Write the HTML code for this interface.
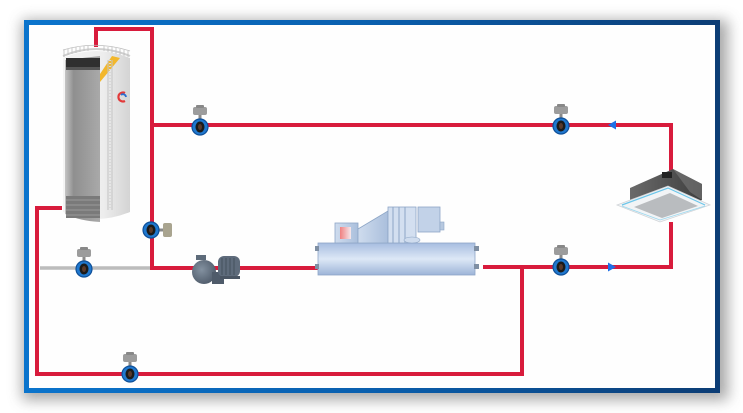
<!DOCTYPE html>
<html><head><meta charset="utf-8"><style>
html,body{margin:0;padding:0;background:#fff;}
svg{display:block;}
</style></head><body>
<svg width="743" height="413" viewBox="0 0 743 413" xmlns="http://www.w3.org/2000/svg">
<defs>
<filter id="sh" x="-10%" y="-10%" width="120%" height="125%"><feGaussianBlur stdDeviation="7"/></filter>
<linearGradient id="fr" x1="0" y1="0" x2="1" y2="0">
<stop offset="0" stop-color="#0b74cc"/><stop offset="0.5" stop-color="#0a5fae"/><stop offset="1" stop-color="#0c3d75"/>
</linearGradient>
<linearGradient id="tankL" x1="0" y1="0" x2="1" y2="0">
<stop offset="0" stop-color="#c4c4c4"/><stop offset="0.25" stop-color="#8f8f8f"/><stop offset="1" stop-color="#a9a9a9"/>
</linearGradient>
<linearGradient id="tankR" x1="0" y1="0" x2="1" y2="0">
<stop offset="0" stop-color="#f4f4f4"/><stop offset="0.6" stop-color="#ededed"/><stop offset="1" stop-color="#d4d4d4"/>
</linearGradient>
<linearGradient id="chB" x1="0" y1="0" x2="0" y2="1">
<stop offset="0" stop-color="#a7bde0"/><stop offset="0.5" stop-color="#dde8f6"/><stop offset="1" stop-color="#9db4d8"/>
</linearGradient>
<linearGradient id="chU" x1="0" y1="0" x2="1" y2="0">
<stop offset="0" stop-color="#cfdcee"/><stop offset="1" stop-color="#aabfdc"/>
</linearGradient>
<linearGradient id="red" x1="0" y1="0" x2="1" y2="0">
<stop offset="0" stop-color="#f08080"/><stop offset="1" stop-color="#f5e8ec"/>
</linearGradient>
<linearGradient id="acb" x1="0" y1="0" x2="1" y2="0">
<stop offset="0" stop-color="#6a6a6a"/><stop offset="1" stop-color="#3e3e3e"/>
</linearGradient>
<radialGradient id="pump" cx="0.4" cy="0.4" r="0.7">
<stop offset="0" stop-color="#8391a0"/><stop offset="1" stop-color="#4c5867"/>
</radialGradient>
<g id="valve">
<rect x="-1.5" y="-13" width="3" height="6" fill="#8a8a8a"/>
<rect x="-7" y="-20" width="14" height="8" rx="2" fill="#9c9c9c"/>
<rect x="-4" y="-22" width="8" height="3" rx="1" fill="#888"/>
<circle cx="0" cy="0" r="8" fill="#1f78cf" stroke="#0e4f98" stroke-width="1.2"/>
<ellipse cx="0" cy="0" rx="4.5" ry="5.5" fill="#1b1b1b"/>
<ellipse cx="0" cy="0" rx="2" ry="3" fill="#5a3a2a"/>
</g>
</defs>

<!-- frame shadow -->
<rect x="22" y="20" width="706" height="380" fill="#999" filter="url(#sh)" opacity="0.85"/>
<rect x="26.5" y="22.5" width="691" height="368" fill="#fefefe" stroke="url(#fr)" stroke-width="5"/>

<!-- pipes -->
<g fill="none" stroke="#d81b3c" stroke-width="4" stroke-linejoin="miter">
<path d="M96,47 V29 H152 V268 H320"/>
<path d="M152,125 H671 V172"/>
<path d="M671,222 V267 H483"/>
<path d="M522,267 V374 H37 V208 H62"/>
</g>
<path d="M40,268 H150" stroke="#bcbcbc" stroke-width="3.5" fill="none"/>

<!-- arrows -->
<polygon points="608,125 616,120.5 616,129.5" fill="#1f6fe6"/>
<polygon points="616,267 608,262.5 608,271.5" fill="#1f6fe6"/>

<!-- tank -->
<g>
<path d="M63,58 Q96,44 130,58 V212 Q96,226 63,212 Z" fill="url(#tankR)"/>
<path d="M65,60 L100,56 V222 Q80,221 65,214 Z" fill="url(#tankL)"/>
<rect x="66" y="58" width="34" height="9" fill="#2f2f2f"/>
<rect x="66" y="67" width="34" height="3" fill="#555"/>
<rect x="66" y="196" width="34" height="22" fill="#7a7a7a"/>
<g stroke="#9a9a9a" stroke-width="1">
<line x1="66" y1="200" x2="100" y2="200"/><line x1="66" y1="205" x2="100" y2="205"/><line x1="66" y1="210" x2="100" y2="210"/><line x1="66" y1="215" x2="100" y2="215"/>
</g>
<polygon points="100,82 100,74 112,56 120,58" fill="#f2b72c"/>
<g stroke="#c4c4c4" stroke-width="1">
<line x1="108" y1="60" x2="108" y2="210"/><line x1="112" y1="60" x2="112" y2="210"/>
</g>
<line x1="110" y1="60" x2="110" y2="210" stroke="#d8d8d8" stroke-width="2" stroke-dasharray="1 2"/>
<path d="M125,93 A4.5,4.5 0 1 0 125,101" fill="none" stroke="#e23a3a" stroke-width="2.2"/>
<path d="M121,95 A3,3 0 0 1 126,97" fill="none" stroke="#2a6fd0" stroke-width="1.8"/>
<path d="M63,56 Q96,42 130,56" fill="none" stroke="#cfcfcf" stroke-width="2"/>
<g stroke="#bdbdbd" stroke-width="0.8">
<line x1="64" y1="50" x2="64" y2="57"/><line x1="68" y1="49" x2="68" y2="55"/><line x1="72" y1="48" x2="72" y2="54"/><line x1="76" y1="47" x2="76" y2="53"/><line x1="80" y1="47" x2="80" y2="52"/><line x1="84" y1="46" x2="84" y2="51"/><line x1="88" y1="46" x2="88" y2="51"/><line x1="104" y1="46" x2="104" y2="51"/><line x1="108" y1="47" x2="108" y2="52"/><line x1="112" y1="47" x2="112" y2="53"/><line x1="116" y1="48" x2="116" y2="54"/><line x1="120" y1="49" x2="120" y2="55"/><line x1="124" y1="50" x2="124" y2="56"/><line x1="128" y1="51" x2="128" y2="57"/>
<path d="M63,50 Q96,40 130,51" fill="none"/>
</g>
</g>

<!-- pump -->
<g>
<rect x="196" y="255" width="10" height="5" fill="#5d6b7a"/>
<circle cx="204" cy="272" r="12" fill="url(#pump)"/>
<rect x="212" y="272" width="12" height="12" fill="#4f5b6a"/>
<rect x="218" y="256" width="22" height="21" rx="6" fill="#5e6b7b"/>
<g stroke="#44505e" stroke-width="1"><line x1="222" y1="258" x2="222" y2="275"/><line x1="226" y1="258" x2="226" y2="275"/><line x1="230" y1="258" x2="230" y2="275"/><line x1="234" y1="258" x2="234" y2="275"/></g>
<rect x="220" y="276" width="20" height="3" fill="#4a5563"/>
</g>

<!-- chiller -->
<g>
<rect x="318" y="243" width="157" height="32" fill="url(#chB)" stroke="#8ea6c6" stroke-width="0.8"/>
<rect x="315" y="246" width="4" height="5" fill="#7f8fa3"/><rect x="315" y="264" width="4" height="5" fill="#7f8fa3"/>
<rect x="474" y="246" width="5" height="5" fill="#7f8fa3"/><rect x="474" y="264" width="5" height="5" fill="#7f8fa3"/>
<rect x="335" y="223" width="23" height="20" fill="url(#chU)" stroke="#8ea6c6" stroke-width="0.8"/>
<rect x="340" y="227" width="11" height="12" fill="url(#red)"/>
<polygon points="358,229 388,211 388,243 358,243" fill="url(#chU)" stroke="#8ea6c6" stroke-width="0.8"/>
<rect x="388" y="207" width="28" height="36" fill="#d3dff0" stroke="#8ea6c6" stroke-width="0.8"/>
<g stroke="#8ea6c6" stroke-width="1"><line x1="393" y1="207" x2="393" y2="243"/><line x1="399" y1="207" x2="399" y2="243"/><line x1="405" y1="207" x2="405" y2="243"/></g>
<rect x="418" y="207" width="22" height="25" fill="#c2d2e8" stroke="#8ea6c6" stroke-width="0.8"/>
<rect x="440" y="222" width="4" height="8" fill="#b7c8df" stroke="#8ea6c6" stroke-width="0.6"/>
<ellipse cx="412" cy="240" rx="8" ry="3" fill="#cfdcee" stroke="#8ea6c6" stroke-width="0.6"/>
</g>

<!-- AC unit -->
<g>
<polygon points="630,200 630,188 673,169 702,184 702,200 665,212" fill="url(#acb)"/>
<polygon points="673,169 702,184 702,200 690,192" fill="#7a7a7a" opacity="0.6"/>
<rect x="662" y="172" width="10" height="6" fill="#222"/>
<polygon points="617,205 668,186 710,205 660,222" fill="#f2f4f6" stroke="#d0d4d8" stroke-width="0.8"/>
<polygon points="634,207 670,193 698,206 662,218" fill="#b9bcbf"/>
<polyline points="622,205 668,188 705,205" fill="none" stroke="#6cc6ea" stroke-width="1.2"/>
<polyline points="622,206 660,220 705,206" fill="none" stroke="#9ad8ef" stroke-width="0.8"/>
</g>

<!-- valves -->
<use href="#valve" x="200" y="127"/>
<use href="#valve" x="561" y="126"/>
<use href="#valve" x="561" y="267"/>
<use href="#valve" x="84" y="269"/>
<use href="#valve" x="130" y="374"/>
<g transform="translate(151,230) rotate(90)">
<rect x="-1.5" y="-13" width="3" height="6" fill="#8a8a8a"/>
<rect x="-7" y="-21" width="14" height="9" rx="2" fill="#a9a48f"/>
<circle cx="0" cy="0" r="8" fill="#1f78cf" stroke="#0e4f98" stroke-width="1.2"/>
<ellipse cx="0" cy="0" rx="5.5" ry="4.5" fill="#1b1b1b"/>
<ellipse cx="0" cy="0" rx="3" ry="2" fill="#5a3a2a"/>
</g>
</svg>
</body></html>
